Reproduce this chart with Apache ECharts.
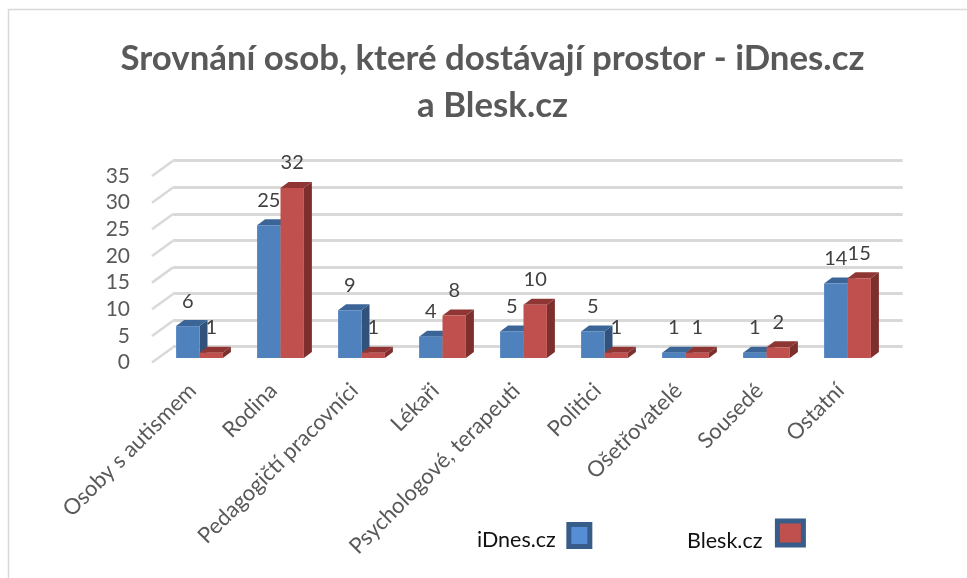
<!DOCTYPE html>
<html>
<head>
<meta charset="utf-8">
<style>
  html, body { margin: 0; padding: 0; background: #fff; }
  #chart { width: 967px; height: 578px; }
</style>
<script src="https://cdn.jsdelivr.net/npm/echarts@6/dist/echarts.min.js"></script>
</head>
<body>
<div id="chart"></div>
<script>
var titleText = 'Srovnání osob, které dostávají prostor - iDnes.cz\na Blesk.cz'
var categories = ['Osoby s autismem', 'Rodina', 'Pedagogičtí pracovníci', 'Lékaři', 'Psychologové, terapeuti', 'Politici', 'Ošetřovatelé', 'Sousedé', 'Ostatní']
var idnesValues = [6, 25, 9, 4, 5, 5, 1, 1, 14]
var bleskValues = [1, 32, 1, 8, 10, 1, 1, 2, 15]
var yTicks = [0, 5, 10, 15, 20, 25, 30, 35]

var FONT = 'Lato'
var BAR_W = 23.4
var DEPTH_X = 8
var DEPTH_Y = 6

// side and top faces of a bar; side = -1 is the left bar of the pair, 1 the right one
function depthFaces(side, topColor, sideColor) {
  return function (params, api) {
    var top = api.coord([api.value(0), api.value(1)])
    var base = api.coord([api.value(0), 0])
    var x0 = side < 0 ? top[0] - BAR_W : top[0]
    var x1 = x0 + BAR_W
    return {
      type: 'group',
      children: [
        {
          type: 'polygon',
          shape: { points: [[x1, top[1]], [x1 + DEPTH_X, top[1] - DEPTH_Y], [x1 + DEPTH_X, base[1] - DEPTH_Y], [x1, base[1]]] },
          style: { fill: sideColor }
        },
        {
          type: 'polygon',
          shape: { points: [[x0, top[1]], [x0 + DEPTH_X, top[1] - DEPTH_Y], [x1 + DEPTH_X, top[1] - DEPTH_Y], [x1, top[1]]] },
          style: { fill: topColor }
        }
      ]
    }
  }
}

function pairs(values) {
  return values.map(function (v, i) { return [i, v] })
}

function barLabel() {
  return { show: true, position: 'top', distance: 15, fontFamily: FONT, fontSize: 20, color: '#404040' }
}

// the legend text sits a little lower than its swatch, so it goes through a rich style
function legendText(topGap, rightGap) {
  return {
    fontFamily: FONT, fontSize: 21.5, color: '#111',
    rich: { s: { fontFamily: FONT, fontSize: 21.5, color: '#111', padding: [topGap, rightGap, 0, 0] } }
  }
}

var chart = echarts.init(document.getElementById('chart'), null, { renderer: 'canvas' })
chart.setOption({
  animation: false,
  backgroundColor: '#fff',
  title: {
    text: titleText,
    left: 487.5,
    top: 30,
    textAlign: 'center',
    textStyle: { fontFamily: FONT, fontSize: 34.8, fontWeight: 'bold', color: '#595959', lineHeight: 47 }
  },
  legend: [
    {
      data: ['iDnes.cz'], left: 472, top: 517, align: 'right', icon: 'rect', itemWidth: 21, itemHeight: 22, itemGap: 0,
      formatter: '{s|{name}}',
      textStyle: legendText(10, 8),
      itemStyle: { color: '#558ED5', borderColor: '#385D8A', borderWidth: 5 }
    },
    {
      data: ['Blesk.cz'], left: 682, top: 513.5, align: 'right', icon: 'rect', itemWidth: 26, itemHeight: 24, itemGap: 0,
      formatter: '{s|{name}}',
      textStyle: legendText(16, 10),
      itemStyle: { color: '#C0504D', borderColor: '#385D8A', borderWidth: 5 }
    }
  ],
  grid: [
    { left: 159, top: 172, width: 729, height: 186 },
    { left: 172.7, top: 160.7, width: 730, height: 186 },
    { left: 152, top: 176, width: 20.7, height: 186.6 }
  ],
  xAxis: [
    {
      type: 'category', gridIndex: 0, data: categories,
      axisLine: { show: false }, axisTick: { show: false },
      axisLabel: { interval: 0, rotate: 45, margin: 22, padding: [0, 10, 22, 0], fontFamily: FONT, fontSize: 22, color: '#595959' }
    },
    { type: 'value', gridIndex: 1, show: false, min: 0, max: 1 },
    { type: 'value', gridIndex: 2, show: false, min: 0, max: 1 }
  ],
  yAxis: [
    { type: 'value', gridIndex: 0, show: false, min: 0, max: 35, interval: 5 },
    {
      type: 'value', gridIndex: 1, min: 0, max: 35, interval: 5,
      axisLine: { show: false }, axisTick: { show: false }, axisLabel: { show: false },
      splitLine: { show: true, lineStyle: { color: '#d9d9d9', width: 3 } }
    },
    {
      type: 'value', gridIndex: 2, min: 0, max: 35, interval: 5,
      axisLine: { show: false }, axisTick: { show: false }, splitLine: { show: false },
      axisLabel: { margin: 22, padding: [5, 0, 0, 0], fontFamily: FONT, fontSize: 21, color: '#595959' }
    }
  ],
  series: [
    {
      // diagonal floor/wall lines running from the tick labels to the back wall
      type: 'custom', xAxisIndex: 2, yAxisIndex: 2, silent: true, z: 1,
      data: yTicks.map(function (t) { return [0, t] }),
      renderItem: function (params, api) {
        var from = api.coord([0, api.value(1)])
        var to = api.coord([1, api.value(1)])
        return {
          type: 'line',
          shape: { x1: from[0], y1: from[1], x2: to[0], y2: from[1] - 15 },
          style: { stroke: '#d9d9d9', lineWidth: 2.5 }
        }
      }
    },
    {
      type: 'custom', xAxisIndex: 0, yAxisIndex: 0, silent: true, z: 3,
      data: pairs(idnesValues),
      renderItem: depthFaces(-1, '#3A6596', '#30527B')
    },
    {
      name: 'iDnes.cz', type: 'bar', xAxisIndex: 0, yAxisIndex: 0, z: 4,
      data: idnesValues, barWidth: BAR_W, barGap: 0,
      itemStyle: { color: '#4F81BD' },
      label: barLabel()
    },
    {
      type: 'custom', xAxisIndex: 0, yAxisIndex: 0, silent: true, z: 5,
      data: pairs(bleskValues),
      renderItem: depthFaces(1, '#8F3634', '#7D2F2D')
    },
    {
      name: 'Blesk.cz', type: 'bar', xAxisIndex: 0, yAxisIndex: 0, z: 6,
      data: bleskValues, barWidth: BAR_W, barGap: 0,
      itemStyle: { color: '#C0504D' },
      label: barLabel()
    }
  ],
  graphic: [
    {
      type: 'polyline', silent: true,
      shape: { points: [[8.5, 578], [8.5, 9.5], [967, 9.5]] },
      style: { fill: null, stroke: '#d9d9d9', lineWidth: 1.5 }
    }
  ]
})
</script>
</body>
</html>
